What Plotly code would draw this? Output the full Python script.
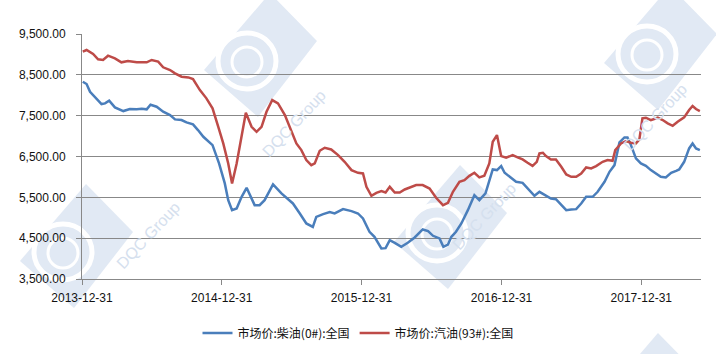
import pandas as pd
import plotly.graph_objects as go

start = pd.Timestamp("2013-12-31")

# days since 2013-12-31 and values
diesel_days = [2, 12, 21, 34, 51, 60, 71, 86, 108, 125, 143, 156, 169, 179, 195, 212, 230, 243, 260, 273,
               290, 303, 317, 341, 358, 373, 382, 392, 404, 417, 430, 451, 464, 477, 499, 521, 538, 551, 569, 586,
               603, 612, 630, 647, 660, 682, 704, 721, 734, 751, 764, 782, 793, 804, 817, 834, 851, 869, 890, 904,
               917, 934, 944, 956, 965, 977, 991, 1008, 1025, 1038, 1054, 1073, 1084, 1095, 1104, 1121, 1134, 1151, 1164, 1182,
               1195, 1212, 1225, 1238, 1252, 1265, 1278, 1291, 1304, 1317, 1334, 1347, 1365, 1378, 1391, 1404, 1417, 1425, 1434, 1447,
               1460, 1473, 1486, 1499, 1512, 1525, 1539, 1552, 1560, 1573, 1586, 1595, 1604, 1614]
diesel = [8331, 8275, 8086, 7963, 7784, 7800, 7866, 7703, 7613, 7662, 7655, 7670, 7655, 7767, 7719, 7596, 7515, 7409, 7393, 7335,
          7286, 7147, 6983, 6779, 6330, 5841, 5431, 5186, 5227, 5513, 5733, 5309, 5309, 5431, 5816, 5595, 5448, 5350, 5105, 4860,
          4777, 5022, 5088, 5137, 5105, 5211, 5162, 5105, 4983, 4654, 4532, 4247, 4255, 4451, 4386, 4288, 4386, 4517, 4713, 4672,
          4558, 4494, 4288, 4345, 4533, 4656, 4860, 5186, 5554, 5431, 5595, 6184, 6167, 6265, 6102, 5963, 5880, 5855, 5718, 5537,
          5635, 5554, 5472, 5455, 5309, 5186, 5202, 5211, 5349, 5513, 5513, 5635, 5880, 6125, 6289, 6846, 6968, 6968, 6779, 6453,
          6330, 6272, 6167, 6085, 6003, 5987, 6102, 6150, 6184, 6370, 6698, 6820, 6698, 6657]

gas_days = [2, 12, 29, 42, 55, 68, 86, 103, 120, 143, 169, 182, 199, 212, 230, 243, 260, 278, 290, 308,
            325, 341, 356, 369, 382, 392, 404, 417, 428, 443, 456, 469, 482, 497, 512, 530, 547, 560, 573, 586,
            599, 608, 621, 634, 651, 669, 686, 704, 721, 734, 743, 756, 769, 782, 793, 804, 817, 830, 843, 860,
            873, 890, 908, 925, 943, 956, 969, 986, 999, 1012, 1025, 1038, 1051, 1064, 1073, 1084, 1095, 1108, 1125, 1138,
            1151, 1164, 1177, 1188, 1195, 1204, 1212, 1225, 1238, 1252, 1265, 1278, 1291, 1304, 1317, 1330, 1343, 1360, 1373, 1386,
            1393, 1408, 1421, 1434, 1447, 1456, 1464, 1473, 1486, 1504, 1517, 1530, 1543, 1556, 1573, 1586, 1595, 1604, 1614]
gasoline = [9067, 9108, 9010, 8880, 8864, 8969, 8904, 8806, 8839, 8806, 8806, 8864, 8823, 8684, 8618, 8536, 8454, 8437, 8397, 8127,
            7924, 7679, 7228, 6820, 6330, 5841, 6330, 6983, 7571, 7228, 7105, 7228, 7596, 7882, 7800, 7515, 7147, 6820, 6657, 6412,
            6289, 6330, 6640, 6713, 6673, 6534, 6370, 6167, 6100, 6085, 5757, 5537, 5610, 5652, 5618, 5757, 5618, 5618, 5692, 5757,
            5799, 5799, 5716, 5488, 5309, 5365, 5635, 5880, 5921, 6027, 6102, 5987, 6027, 6330, 6860, 7024, 6510, 6470, 6534, 6478,
            6428, 6347, 6272, 6370, 6576, 6592, 6510, 6428, 6428, 6248, 6061, 6003, 6003, 6085, 6232, 6208, 6265, 6370, 6412, 6396,
            6657, 6820, 6877, 6836, 6820, 6919, 7434, 7450, 7392, 7450, 7392, 7311, 7252, 7352, 7458, 7638, 7736, 7662, 7613]

tick_dates = ["2013-12-31", "2014-12-31", "2015-12-31", "2016-12-31", "2017-12-31"]
y_ticks = [3500, 4500, 5500, 6500, 7500, 8500, 9500]

diesel_x = [start + pd.Timedelta(days=d) for d in diesel_days]
gas_x = [start + pd.Timedelta(days=d) for d in gas_days]

W, H = 716, 354
ML, MR, MT, MB = 82, 15, 34, 75
PW, PH = W - ML - MR, H - MT - MB

fig = go.Figure()
fig.add_trace(go.Scatter(x=diesel_x, y=diesel, mode="lines", name="市场价:柴油(0#):全国",
                         line=dict(color="#4A7EBB", width=2.5)))
fig.add_trace(go.Scatter(x=gas_x, y=gasoline, mode="lines", name="市场价:汽油(93#):全国",
                         line=dict(color="#BE4B48", width=2.5)))

# faint watermark (decorative), positioned in pixels -> paper coords
def px(x):
    return (x - ML) / PW

def py(y):
    return (H - MB - y) / PH

wm_centers = [(262, 55), (78, 246), (452, 227), (662, 48), (650, 395), (268, 416)]
corners = [(-58, 15), (8, -62), (55, -14), (-4, 62)]
shapes = []
annotations = []
for cx, cy in wm_centers:
    pts = [(px(cx + dx), py(cy + dy)) for dx, dy in corners]
    path = "M " + " L ".join(f"{a:.4f},{b:.4f}" for a, b in pts) + " Z"
    shapes.append(dict(type="path", path=path, xref="paper", yref="paper",
                       fillcolor="#e1e9f4", line=dict(width=0), layer="below"))
    if cy < 300:
        shapes.append(dict(type="circle", xref="paper", yref="paper",
                           x0=px(cx - 44), x1=px(cx + 14), y0=py(cy + 34), y1=py(cy - 22),
                           line=dict(color="white", width=5), fillcolor="rgba(0,0,0,0)", layer="below"))
        shapes.append(dict(type="circle", xref="paper", yref="paper",
                           x0=px(cx - 30), x1=px(cx + 0), y0=py(cy + 22), y1=py(cy - 8),
                           line=dict(color="white", width=3), fillcolor="rgba(0,0,0,0)", layer="below"))
        annotations.append(dict(x=px(cx + 32), y=py(cy + 29), xref="paper", yref="paper",
                                text="DQC Group", showarrow=False, textangle=-47,
                                font=dict(family="Liberation Sans", size=16, color="#d5e0ee")))

fig.update_layout(
    width=W, height=H,
    margin=dict(l=ML, r=MR, t=MT, b=MB),
    paper_bgcolor="white", plot_bgcolor="rgba(0,0,0,0)",
    font=dict(family="Liberation Sans, Noto Sans CJK SC", size=12, color="#111"),
    showlegend=True,
    legend=dict(orientation="h", xref="container", x=0.5, xanchor="center",
                yref="container", y=1 - 333 / H, yanchor="middle",
                font=dict(family="Noto Sans CJK SC", size=12, color="#111"),
                bgcolor="rgba(0,0,0,0)"),
    shapes=shapes,
    annotations=annotations,
)
fig.update_xaxes(
    range=[start, start + pd.Timedelta(days=1617)],
    tickvals=tick_dates, ticktext=tick_dates,
    showgrid=False, showline=True, linecolor="#888", linewidth=1,
    ticks="outside", ticklen=5, tickcolor="#888", ticklabelstandoff=3,
    tickfont=dict(size=12), zeroline=False,
)
fig.update_yaxes(
    range=[3500, 9500], tickvals=y_ticks, tickformat=",.2f",
    showgrid=True, gridcolor="#888", gridwidth=1,
    showline=True, linecolor="#888", linewidth=1,
    ticks="outside", ticklen=5, tickcolor="#888", ticklabelstandoff=8,
    tickfont=dict(size=12), zeroline=False,
)

fig.write_html("out.html")
